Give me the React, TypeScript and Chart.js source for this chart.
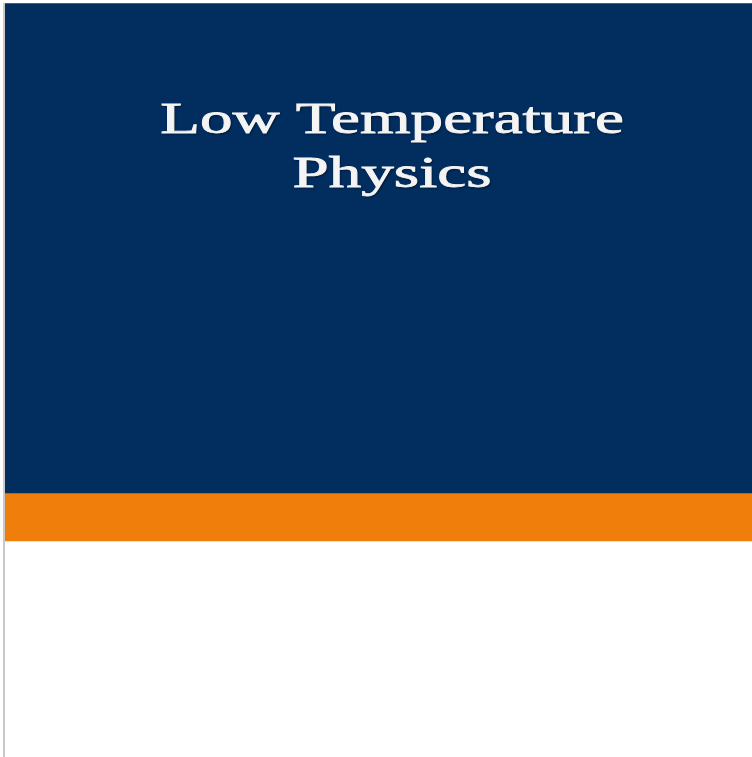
import React, { useEffect, useRef } from "react";
import { Chart, registerables } from "chart.js";

Chart.register(...registerables);

const categories = ["cover"];
const segmentNames = ["topMargin", "navyPanel", "orangeBand", "whiteArea"];
const segmentValues = [3, 490, 48, 216];
const segmentColors = ["#ffffff", "#012d5f", "#f07e0b", "#ffffff"];
const titleLines = ["Low Temperature", "Physics"];

const coverPlugin = {
  id: "coverDecor",
  beforeDraw(chart: any) {
    const { ctx, width, height } = chart;
    ctx.save();
    ctx.fillStyle = "#ffffff";
    ctx.fillRect(0, 0, width, height);
    ctx.restore();
  },
  afterDraw(chart: any) {
    const { ctx, chartArea, height } = chart;
    ctx.save();
    // left gray edge
    ctx.fillStyle = "#c9c9c9";
    ctx.fillRect(chartArea.left - 2, 3, 2, height - 3);
    // title (horizontally stretched serif)
    const cx = 392;
    const sx = 1.48;
    ctx.font = '44px "Liberation Serif", "DejaVu Serif", serif';
    ctx.textAlign = "center";
    ctx.textBaseline = "alphabetic";
    ctx.shadowColor = "rgba(0,0,0,0.7)";
    ctx.shadowBlur = 2;
    ctx.shadowOffsetX = 1;
    ctx.shadowOffsetY = 1;
    ctx.fillStyle = "#f4f4f4";
    ctx.strokeStyle = "#f4f4f4";
    ctx.lineWidth = 0.8;
    ctx.translate(cx, 0);
    ctx.scale(sx, 1);
    ctx.fillText(titleLines[0], 0, 133);
    ctx.fillText(titleLines[1], 0, 187);
    ctx.shadowColor = "transparent";
    ctx.strokeText(titleLines[0], 0, 133);
    ctx.strokeText(titleLines[1], 0, 187);
    ctx.restore();
  },
};

export default function App() {
  const ref = useRef<HTMLCanvasElement | null>(null);
  useEffect(() => {
    if (!ref.current) return;
    const chart = new Chart(ref.current, {
      type: "bar",
      data: {
        labels: categories,
        datasets: segmentValues.map((v, i) => ({
          label: segmentNames[i],
          data: [v],
          backgroundColor: segmentColors[i],
          borderWidth: 0,
          barPercentage: 1,
          categoryPercentage: 1,
        })),
      },
      options: {
        responsive: false,
        animation: false,
        layout: { padding: { left: 5, right: 0, top: 0, bottom: 0 } },
        plugins: { legend: { display: false }, tooltip: { enabled: false }, title: { display: false } },
        scales: {
          x: { display: false, stacked: true },
          y: { display: false, stacked: true, min: 0, max: 757, reverse: true },
        },
      },
      plugins: [coverPlugin],
    });
    return () => chart.destroy();
  }, []);
  return (
    <div style={{ position: "fixed", left: 0, top: 0, width: 752, height: 757 }}>
      <canvas ref={ref} width={752} height={757} style={{ display: "block" }} />
    </div>
  );
}
